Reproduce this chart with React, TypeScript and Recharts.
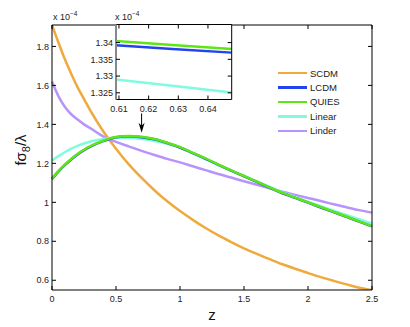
import React from 'react';
import { LineChart, Line, XAxis, YAxis, ReferenceLine, ReferenceDot } from 'recharts';

// growth-rate style curve f*sigma8/lambda vs redshift z, five models + zoomed inset near the peak

const zs = [0, 0.05, 0.1, 0.15, 0.2, 0.25, 0.3, 0.4, 0.5, 0.6, 0.7, 0.8, 0.9, 1.0, 1.1, 1.2, 1.3, 1.4, 1.5, 1.6, 1.7, 1.8, 1.9, 2.0, 2.1, 2.2, 2.3, 2.4, 2.5];

const scdm = [1.91, 1.82, 1.735, 1.66, 1.59, 1.53, 1.47, 1.365, 1.275, 1.195, 1.125, 1.062, 1.005, 0.955, 0.91, 0.868, 0.83, 0.796, 0.764, 0.735, 0.708, 0.682, 0.659, 0.637, 0.616, 0.597, 0.579, 0.562, 0.55];
const lcdm = [1.12, 1.158, 1.191, 1.22, 1.246, 1.268, 1.286, 1.314, 1.334, 1.3393, 1.3345, 1.3235, 1.3045, 1.2815, 1.2525, 1.2235, 1.1925, 1.1625, 1.1335, 1.1045, 1.0755, 1.0465, 1.0225, 0.9985, 0.9735, 0.9495, 0.9255, 0.9005, 0.8765];
const quies = [1.122, 1.16, 1.193, 1.222, 1.248, 1.27, 1.288, 1.316, 1.335, 1.3405, 1.336, 1.325, 1.306, 1.283, 1.254, 1.225, 1.194, 1.164, 1.135, 1.106, 1.077, 1.048, 1.024, 1.0, 0.975, 0.951, 0.927, 0.902, 0.878];
const linear = [1.215, 1.237, 1.257, 1.275, 1.29, 1.302, 1.312, 1.325, 1.331, 1.33, 1.325, 1.315, 1.3, 1.28, 1.251, 1.222, 1.192, 1.163, 1.135, 1.107, 1.079, 1.051, 1.027, 1.003, 0.98, 0.957, 0.935, 0.913, 0.891];
const linder = [1.62, 1.545, 1.49, 1.452, 1.425, 1.4, 1.38, 1.338, 1.31, 1.287, 1.264, 1.243, 1.223, 1.205, 1.185, 1.165, 1.145, 1.127, 1.108, 1.09, 1.072, 1.055, 1.038, 1.022, 1.007, 0.99, 0.975, 0.96, 0.947];

const xTicks = [0, 0.5, 1, 1.5, 2, 2.5];
const yTicks = [0.6, 0.8, 1, 1.2, 1.4, 1.6, 1.8];

// inset (values x 10^-4)
const insetZ = [0.609, 0.628, 0.648];
const insetLcdm = [1.3392, 1.3381, 1.337];
const insetQuies = [1.3405, 1.3393, 1.3381];
const insetLinear = [1.329, 1.3271, 1.3251];
const insetXTicks = [0.61, 0.62, 0.63, 0.64];
const insetYTicks = [1.325, 1.33, 1.335, 1.34];

const seriesNames = ['SCDM', 'LCDM', 'QUIES', 'Linear', 'Linder'];
const seriesColors = ['#eeaa3c', '#2443f0', '#5ee516', '#80fbe0', '#b694fb'];

const FONT = '"Liberation Sans", Arial, Helvetica, sans-serif';

const mainData = zs.map((z, i) => ({
  z,
  SCDM: scdm[i],
  LCDM: lcdm[i],
  QUIES: quies[i],
  Linear: linear[i],
  Linder: linder[i],
}));

const insetData = insetZ.map((z, i) => ({
  z,
  LCDM: insetLcdm[i],
  QUIES: insetQuies[i],
  Linear: insetLinear[i],
}));

// matlab-style inward ticks; label=false draws only the tick mark
function makeTick(side: 'bottom' | 'top' | 'left' | 'right', label: boolean) {
  return (props: any) => {
    const { x, y, payload } = props;
    const len = 4;
    let line;
    if (side === 'bottom') line = <line x1={x} x2={x} y1={y} y2={y - len} stroke="#000" />;
    else if (side === 'top') line = <line x1={x} x2={x} y1={y} y2={y + len} stroke="#000" />;
    else if (side === 'left') line = <line x1={x} x2={x + len} y1={y} y2={y} stroke="#000" />;
    else line = <line x1={x} x2={x - len} y1={y} y2={y} stroke="#000" />;
    return (
      <g>
        {line}
        {label && side === 'bottom' && (
          <text x={x} y={y + 12} textAnchor="middle" fontSize={9} fontFamily={FONT} fill="#222">
            {String(payload.value)}
          </text>
        )}
        {label && side === 'left' && (
          <text x={x - 3} y={y + 3.2} textAnchor="end" fontSize={9} fontFamily={FONT} fill="#222">
            {String(payload.value)}
          </text>
        )}
      </g>
    );
  };
}

const ArrowHead = (props: any) => {
  const { cx, cy } = props;
  return <polygon points={`${cx - 3},${cy - 10} ${cx},${cy - 7} ${cx + 3},${cy - 10} ${cx},${cy}`} fill="#000" />;
};

const axisCommon = {
  tickSize: 0,
  tickMargin: 0,
  tickLine: false,
  interval: 0 as const,
};

function MainChart() {
  const order = ['SCDM', 'Linder', 'Linear', 'LCDM', 'QUIES'];
  return (
    <LineChart width={410} height={327} data={mainData} margin={{ top: 15, right: 28, bottom: 17, left: 12 }}>
      <XAxis
        {...axisCommon}
        dataKey="z"
        type="number"
        domain={[0, 2.5]}
        ticks={xTicks}
        height={20}
        axisLine={{ stroke: '#000' }}
        tick={makeTick('bottom', true)}
      />
      <XAxis
        {...axisCommon}
        xAxisId="top"
        orientation="top"
        dataKey="z"
        type="number"
        domain={[0, 2.5]}
        ticks={xTicks}
        height={10}
        axisLine={{ stroke: '#000' }}
        tick={makeTick('top', false)}
      />
      <YAxis
        {...axisCommon}
        type="number"
        domain={[0.55, 1.91]}
        allowDataOverflow
        ticks={yTicks}
        width={40}
        axisLine={{ stroke: '#000' }}
        tick={makeTick('left', true)}
      />
      <YAxis
        {...axisCommon}
        yAxisId="right"
        orientation="right"
        type="number"
        domain={[0.55, 1.91]}
        allowDataOverflow
        ticks={yTicks}
        width={10}
        axisLine={{ stroke: '#000' }}
        tick={makeTick('right', false)}
      />
      {order.map(name => (
        <Line
          key={name}
          type="monotone"
          dataKey={name}
          stroke={seriesColors[seriesNames.indexOf(name)]}
          strokeWidth={2.5}
          dot={false}
          isAnimationActive={false}
        />
      ))}
      <ReferenceLine segment={[{ x: 0.7, y: 1.456 }, { x: 0.7, y: 1.39 }]} stroke="#000" strokeWidth={1} />
      <ReferenceDot x={0.7} y={1.357} r={3} shape={ArrowHead} />
    </LineChart>
  );
}

function InsetChart() {
  return (
    <div style={{ position: 'absolute', left: 60, top: 0, width: 180, height: 116 }}>
      <div style={{ position: 'absolute', left: 56, top: 24.5, width: 115.7, height: 75, background: '#fff' }} />
      <div style={{ position: 'absolute', left: 0, top: 0 }}>
        <LineChart width={180} height={116} data={insetData} margin={{ top: 14.5, right: 3.3, bottom: 4.5, left: 16 }}>
          <XAxis
            {...axisCommon}
            dataKey="z"
            type="number"
            domain={[0.609, 0.648]}
            allowDataOverflow
            ticks={insetXTicks}
            height={12}
            axisLine={{ stroke: '#000' }}
            tick={makeTick('bottom', true)}
          />
          <XAxis
            {...axisCommon}
            xAxisId="top"
            orientation="top"
            dataKey="z"
            type="number"
            domain={[0.609, 0.648]}
            allowDataOverflow
            ticks={insetXTicks}
            height={10}
            axisLine={{ stroke: '#000' }}
            tick={makeTick('top', false)}
          />
          <YAxis
            {...axisCommon}
            type="number"
            domain={[1.323, 1.3454]}
            allowDataOverflow
            ticks={insetYTicks}
            width={40}
            axisLine={{ stroke: '#888', strokeWidth: 2 }}
            tick={makeTick('left', true)}
          />
          <YAxis
            {...axisCommon}
            yAxisId="right"
            orientation="right"
            type="number"
            domain={[1.323, 1.3454]}
            allowDataOverflow
            ticks={insetYTicks}
            width={5}
            axisLine={{ stroke: '#000' }}
            tick={makeTick('right', false)}
          />
          {['Linear', 'LCDM', 'QUIES'].map(name => (
            <Line
              key={name}
              type="linear"
              dataKey={name}
              stroke={seriesColors[seriesNames.indexOf(name)]}
              strokeWidth={2.5}
              dot={false}
              isAnimationActive={false}
            />
          ))}
        </LineChart>
      </div>
    </div>
  );
}

function Labels() {
  return (
    <svg width={410} height={327} style={{ position: 'absolute', left: 0, top: 0, pointerEvents: 'none' }}>
      <text x={53} y={20} fontSize={9} fontFamily={FONT} fill="#222">
        x 10<tspan dy={-4} fontSize={6.5}>−4</tspan>
      </text>
      <text x={115} y={20} fontSize={9} fontFamily={FONT} fill="#222">
        x 10<tspan dy={-4} fontSize={6.5}>−4</tspan>
      </text>
      <text x={212} y={320} textAnchor="middle" fontSize={15} fontFamily={FONT} fill="#111">
        z
      </text>
      <text transform="translate(26,150) rotate(-90)" textAnchor="middle" fontSize={15} fontFamily={FONT} fill="#111">
        fσ<tspan dy={4} fontSize={11}>8</tspan>
        <tspan dy={-4}>/λ</tspan>
      </text>
    </svg>
  );
}

function LegendBox() {
  return (
    <div style={{ position: 'absolute', left: 278, top: 66, fontFamily: FONT, fontSize: 9.5, color: '#222' }}>
      {seriesNames.map((name, i) => (
        <div key={name} style={{ display: 'flex', alignItems: 'center', height: 14.4 }}>
          <div style={{ width: 29, height: 2.5, background: seriesColors[i], marginRight: 3 }} />
          <span>{name}</span>
        </div>
      ))}
    </div>
  );
}

export default function App() {
  return (
    <div style={{ position: 'absolute', left: 0, top: 0, width: 410, height: 327, background: '#fff' }}>
      <MainChart />
      <InsetChart />
      <Labels />
      <LegendBox />
    </div>
  );
}
